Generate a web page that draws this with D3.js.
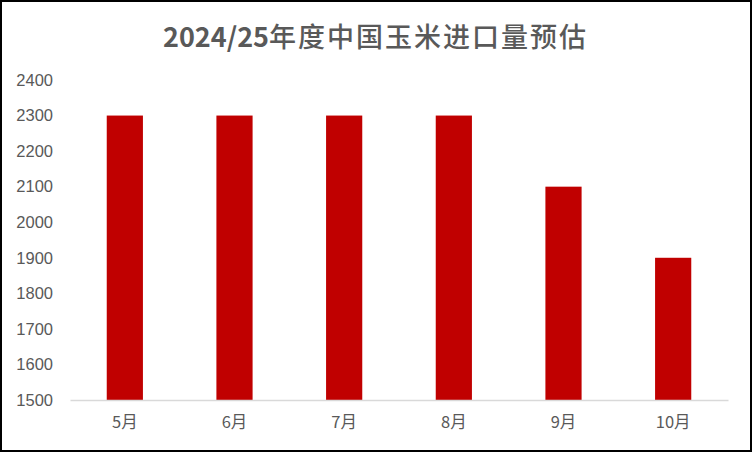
<!DOCTYPE html>
<html>
<head>
<meta charset="utf-8">
<script src="https://cdn.jsdelivr.net/npm/d3@7"></script>
<style>
  html, body { margin: 0; padding: 0; background: #fff; }
  svg { display: block; }
</style>
</head>
<body>
<script>
const width = 752;
const height = 452;

const months = ["5月", "6月", "7月", "8月", "9月", "10月"];
const imports = [2300, 2300, 2300, 2300, 2100, 1900];
const yTicks = [1500, 1600, 1700, 1800, 1900, 2000, 2100, 2200, 2300, 2400];

const color = {
    bar: "#C00000",
    text: "#595959",
    axis: "#D9D9D9",
    border: "#000"
}

const margin = { top: 80, right: 24, bottom: 52, left: 70 };

let svg = d3.select("body").append("svg")
    .attr("width", width)
    .attr("height", height)

svg.append("rect")
    .attr("x", 1)
    .attr("y", 1)
    .attr("width", width - 2)
    .attr("height", height - 2)
    .attr("fill", "#fff")
    .attr("stroke", color.border)
    .attr("stroke-width", 2)

// title: digits tight, CJK part slightly spaced like the reference
let title = svg.append("text")
    .attr("x", 163)
    .attr("y", 47)
    .attr("fill", color.text)
    .attr("font-family", "'Noto Sans CJK SC', sans-serif")
    .attr("font-weight", "bold")
    .attr("font-size", 27)
title.append("tspan").text("2024/25")
title.append("tspan")
    .attr("font-weight", 500)
    .attr("letter-spacing", 2)
    .text("年度中国玉米进口量预估")

let x = d3.scaleBand()
    .domain(months)
    .range([margin.left, width - margin.right])
    .paddingInner(0.67)
    .paddingOuter(0.335);

let y = d3.scaleLinear()
    .domain([1500, 2400])
    .range([height - margin.bottom, margin.top]);

// bars
svg.append("g")
    .selectAll("rect")
    .data(imports)
    .enter()
    .append("rect")
    .attr("x", (d, i) => x(months[i]))
    .attr("y", d => y(d))
    .attr("width", x.bandwidth())
    .attr("height", d => y(1500) - y(d))
    .attr("fill", color.bar)

// y axis (labels only)
let yAxis = svg.append("g")
    .attr("transform", "translate(" + (margin.left - 17) + ",0)")
    .call(d3.axisLeft(y).tickValues(yTicks).tickSize(0).tickPadding(0).tickFormat(d3.format("d")))
yAxis.select(".domain").remove();
yAxis.selectAll("text")
    .attr("fill", color.text)
    .attr("font-family", "'Liberation Sans', Arial, sans-serif")
    .attr("font-size", 16.5)

// x axis
let xAxis = svg.append("g")
    .attr("transform", "translate(0," + (height - margin.bottom) + ")")
    .call(d3.axisBottom(x).tickSize(0).tickPadding(16))
xAxis.select(".domain")
    .attr("stroke", color.axis)
    .attr("stroke-width", 1.5)
xAxis.selectAll("text")
    .attr("fill", color.text)
    .attr("font-family", "'Noto Sans CJK SC', sans-serif")
    .attr("font-size", 16.5)
</script>
</body>
</html>
